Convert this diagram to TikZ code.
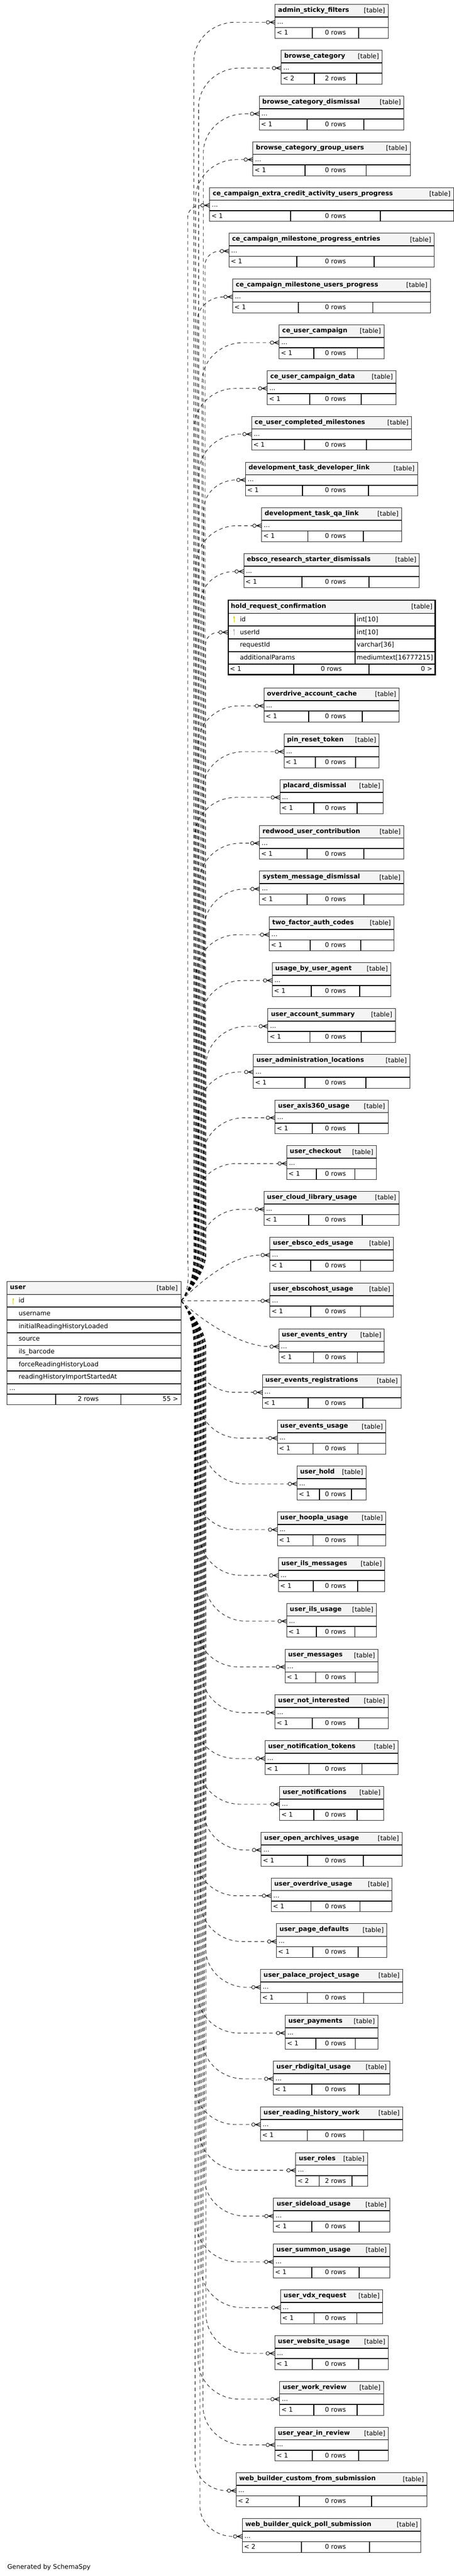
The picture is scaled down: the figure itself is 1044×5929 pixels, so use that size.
\documentclass[tikz,border=0pt]{standalone}
\usepackage{fontspec}
\setmainfont{DejaVu Sans}
\definecolor{hdrbg}{RGB}{244,244,244}
\definecolor{pkcol}{RGB}{214,214,0}
\definecolor{fkcol}{RGB}{176,176,176}
\newcommand\tabfont{\fontsize{11pt}{13pt}\selectfont}
\tikzset{
  every node/.style={inner sep=0pt, outer sep=0pt, font=\tabfont},
  hname/.style={font=\tabfont\bfseries},
  tabbox/.style={draw=black!85, line width=0.75pt, inner sep=0pt, outer sep=0pt},
  sep/.style={line width=1.5pt, draw=black},
  rel/.style={line width=0.75pt, dash pattern=on 6pt off 5pt},
  crowmark/.style={line width=0.9pt},
  dotmark/.style={line width=0.75pt, fill=white},
}
\newcommand\keyicon[3]{% x, head top y, colour
  \fill[#3] (#1,#2+2.6) ellipse[x radius=1.2pt, y radius=2pt];
  \draw[#3, line width=1.1pt] (#1,#2+4) -- (#1,#2+14);
}
\newcommand\relink[3]{% #1 index, #2 left x of table, #3 row y
  \pgfmathsetmacro\rDy{#3-2994}%
  \pgfmathsetmacro\rAdy{abs(\rDy)}%
  \pgfmathsetmacro\rXc{#2-20.5}%
  \coordinate (c#1) at (\rXc,#3);%
  \ifdim\rAdy pt<1pt
    \draw[rel] (uid) -- (c#1);%
  \else\ifdim\rAdy pt<150pt
    \pgfmathsetmacro\rCy{0.38*(\rDy)}%
    \draw[rel] (uid) .. controls +(40,\rCy) and +(-70,0) .. (c#1);%
  \else
    \pgfmathsetmacro\rS{\rDy<0 ? -1 : 1}%
    \pgfmathsetmacro\rBx{min(446+mod(11*#1,29),\rXc-30)}%
    \pgfmathsetmacro\rH{\rXc-\rBx}%
    \pgfmathsetmacro\rV{min(90,0.9*\rH)}%
    \pgfmathsetmacro\rHb{min(\rH,95)}%
    \pgfmathsetmacro\rCa{28*(\rS)}%
    \pgfmathsetmacro\rCb{-45*(\rS)}%
    \pgfmathsetmacro\rYs{2994+110*(\rS)}%
    \pgfmathsetmacro\rYb{#3-(\rS)*\rV}%
    \pgfmathsetmacro\rCc{0.55*(\rS)*\rV}%
    \pgfmathsetmacro\rCd{-0.55*\rHb}%
    \pgfmathsetmacro\rXe{\rBx+\rHb}%
    \draw[rel] (uid) .. controls +(22,\rCa) and +(0,\rCb) .. (\rBx,\rYs) -- (\rBx,\rYb) .. controls +(0,\rCc) and +(\rCd,0) .. (\rXe,#3) -- (c#1);%
  \fi\fi
  \draw[dotmark] (#2-16.5,#3) circle[radius=3pt];
  \draw[crowmark] (#2-12,#3) -- (#2,#3-4.5) (#2-12,#3) -- (#2,#3+4.5) (#2-12.5,#3) -- (#2,#3);
}
\begin{document}
\begin{tikzpicture}[x=0.75pt,y=-0.75pt]
\useasboundingbox (0,0) rectangle (1044,5929);

% ---------------- user table ----------------
\fill[hdrbg] (16,2950) rectangle (417,2979.3);
\foreach \yy in {2979.3,3008.7,3038,3067.3,3096.7,3126,3155.3,3184.7,3208.7}
  \draw[sep] (16,\yy) -- (417,\yy);
\draw[sep] (128,3208.7) -- (128,3233.3) (278,3208.7) -- (278,3233.3);
\node[tabbox, minimum width=300.75pt, minimum height=212.5pt, anchor=north west] (user) at (16,2950) {};
\node[hname, anchor=base west] (un) at (23,2968) {user};
\node[anchor=base east] (ut) at (409,2969.5) {[table]};
\keyicon{30.5}{2988}{pkcol}
\node[anchor=base west] (u1) at (43,2998.3) {id};
\node[anchor=base west] (u2) at (43,3027.7) {username};
\node[anchor=base west] (u3) at (43,3057) {initialReadingHistoryLoaded};
\node[anchor=base west] (u4) at (43,3086.3) {source};
\node[anchor=base west] (u5) at (43,3115.7) {ils\_barcode};
\node[anchor=base west] (u6) at (43,3145) {forceReadingHistoryLoad};
\node[anchor=base west] (u7) at (43,3174.3) {readingHistoryImportStartedAt};
\node[anchor=base west] (u8) at (21.5,3200.2) {...};
\node[anchor=base] (u9) at (203,3225) {2 rows};
\node[anchor=base east] (u10) at (410,3225) {55 >};
\coordinate (uid) at (417,2994);

% ---------------- hold_request_confirmation ----------------
\fill[hdrbg] (524,1380) rectangle (1003,1411.7);
\foreach \yy in {1411.7,1440.7,1470,1499.7,1528.7}
  \draw[sep] (524,\yy) -- (1003,\yy);
\draw[sep] (817,1411.7) -- (817,1528.7) (676,1528.7) -- (676,1554.3) (849,1528.7) -- (849,1554.3);
\node[draw=black, line width=2.25pt, minimum width=357pt, minimum height=128.5pt, anchor=north west] (hold) at (525.5,1381.5) {};
\node[hname, anchor=base west] (hn) at (531,1399.5) {hold\_request\_confirmation};
\node[anchor=base east] (ht) at (995,1401) {[table]};
\keyicon{538.5}{1418.3}{pkcol}
\keyicon{538.5}{1447.6}{fkcol}
\node[anchor=base west] (h1) at (552,1430.7) {id};
\node[anchor=base west] (h2) at (552,1459.7) {userId};
\node[anchor=base west] (h3) at (552,1489) {requestId};
\node[anchor=base west] (h4) at (552,1518.7) {additionalParams};
\node[anchor=base west] (h5) at (821,1430.7) {int[10]};
\node[anchor=base west] (h6) at (821,1459.7) {int[10]};
\node[anchor=base west] (h7) at (821,1489) {varchar[36]};
\node[anchor=base west] (h8) at (821,1518.7) {mediumtext[16777215]};
\node[anchor=base west] (h9) at (529,1545) {< 1};
\node[anchor=base] (h10) at (762.5,1545) {0 rows};
\node[anchor=base east] (h11) at (995,1545) {0 >};
\coordinate (e13) at (524,1455.3);
\relink{13}{524}{1455.3}

% ---------------- collapsed tables ----------------
\foreach \i/\nm/\w/\lf/\rf in {
 0/admin\_sticky\_filters/260/{< 1}/{0 rows},
 1/browse\_category/232/{< 2}/{2 rows},
 2/browse\_category\_dismissal/333/{< 1}/{0 rows},
 3/browse\_category\_group\_users/362/{< 1}/{0 rows},
 4/ce\_campaign\_extra\_credit\_activity\_users\_progress/561/{< 1}/{0 rows},
 5/ce\_campaign\_milestone\_progress\_entries/472/{< 1}/{0 rows},
 6/ce\_campaign\_milestone\_users\_progress/455/{< 1}/{0 rows},
 7/ce\_user\_campaign/241/{< 1}/{0 rows},
 8/ce\_user\_campaign\_data/296/{< 1}/{0 rows},
 9/ce\_user\_completed\_milestones/368/{< 1}/{0 rows},
 10/development\_task\_developer\_link/396/{< 1}/{0 rows},
 11/development\_task\_qa\_link/322/{< 1}/{0 rows},
 12/ebsco\_research\_starter\_dismissals/404/{< 1}/{0 rows},
 14/overdrive\_account\_cache/311/{< 1}/{0 rows},
 15/pin\_reset\_token/219/{< 1}/{0 rows},
 16/placard\_dismissal/238/{< 1}/{0 rows},
 17/redwood\_user\_contribution/332/{< 1}/{0 rows},
 18/system\_message\_dismissal/331/{< 1}/{0 rows},
 19/two\_factor\_auth\_codes/287/{< 1}/{0 rows},
 20/usage\_by\_user\_agent/273/{< 1}/{0 rows},
 21/user\_account\_summary/293/{< 1}/{0 rows},
 22/user\_administration\_locations/360/{< 1}/{0 rows},
 23/user\_axis360\_usage/260/{< 1}/{0 rows},
 24/user\_checkout/206/{< 1}/{0 rows},
 25/user\_cloud\_library\_usage/311/{< 1}/{0 rows},
 26/user\_ebsco\_eds\_usage/284/{< 1}/{0 rows},
 27/user\_ebscohost\_usage/284/{< 1}/{0 rows},
 28/user\_events\_entry/243/{< 1}/{0 rows},
 29/user\_events\_registrations/319/{< 1}/{0 rows},
 30/user\_events\_usage/250/{< 1}/{0 rows},
 31/user\_hold/159/{< 1}/{0 rows},
 32/user\_hoopla\_usage/250/{< 1}/{0 rows},
 33/user\_ils\_messages/245/{< 1}/{0 rows},
 34/user\_ils\_usage/206/{< 1}/{0 rows},
 35/user\_messages/214/{< 1}/{0 rows},
 36/user\_not\_interested/260/{< 1}/{0 rows},
 37/user\_notification\_tokens/306/{< 1}/{0 rows},
 38/user\_notifications/239/{< 1}/{0 rows},
 39/user\_open\_archives\_usage/324/{< 1}/{0 rows},
 40/user\_overdrive\_usage/278/{< 1}/{0 rows},
 41/user\_page\_defaults/254/{< 1}/{0 rows},
 42/user\_palace\_project\_usage/327/{< 1}/{0 rows},
 43/user\_payments/213/{< 1}/{0 rows},
 44/user\_rbdigital\_usage/268/{< 1}/{0 rows},
 45/user\_reading\_history\_work/327/{< 1}/{0 rows},
 46/user\_roles/165/{< 2}/{2 rows},
 47/user\_sideload\_usage/267/{< 1}/{0 rows},
 48/user\_summon\_usage/268/{< 1}/{0 rows},
 49/user\_vdx\_request/235/{< 1}/{0 rows},
 50/user\_website\_usage/261/{< 1}/{0 rows},
 51/user\_work\_review/239/{< 1}/{0 rows},
 52/user\_year\_in\_review/261/{< 1}/{0 rows},
 53/web\_builder\_custom\_from\_submission/439/{< 2}/{0 rows},
 54/web\_builder\_quick\_poll\_submission/411/{< 2}/{0 rows}}
{
  \pgfmathsetmacro\tp{\i<14 ? 10.3+105.33*\i : 1583.7+105.33*(\i-14)}
  \pgfmathsetmacro\tl{763-\w/2}
  \pgfmathsetmacro\tr{763+\w/2}
  \pgfmathsetmacro\da{\tl+\w/3-1}
  \pgfmathsetmacro\db{\tl+2*\w/3+19}
  \pgfmathsetmacro\ey{\tp+41}
  \fill[hdrbg] (\tl,\tp) rectangle (\tr,\tp+29);
  \draw[sep] (\tl,\tp+29) -- (\tr,\tp+29) (\tl,\tp+53) -- (\tr,\tp+53)
             (\da,\tp+53) -- (\da,\tp+78) (\db,\tp+53) -- (\db,\tp+78);
  \node[tabbox, minimum width=\w*0.75pt, minimum height=58.5pt, anchor=north west] (t\i) at (\tl,\tp) {};
  \node[hname, anchor=base west] (tn\i) at (\tl+7,\tp+17.8) {\nm};
  \node[anchor=base east] (tk\i) at (\tr-7,\tp+19.2) {[table]};
  \node[anchor=base west] (td\i) at (\tl+5,\tp+45) {...};
  \node[anchor=base west] (tf\i) at (\tl+4,\tp+70) {\lf};
  \node[anchor=base] (tr\i) at ({(\da+\db)/2},\tp+70) {\rf};
  \coordinate (e\i) at (\tl,\ey);
  \relink{\i}{\tl}{\ey}
}

\node[anchor=base west] (gen) at (17,5913) {Generated by SchemaSpy};
\end{tikzpicture}
\end{document}
